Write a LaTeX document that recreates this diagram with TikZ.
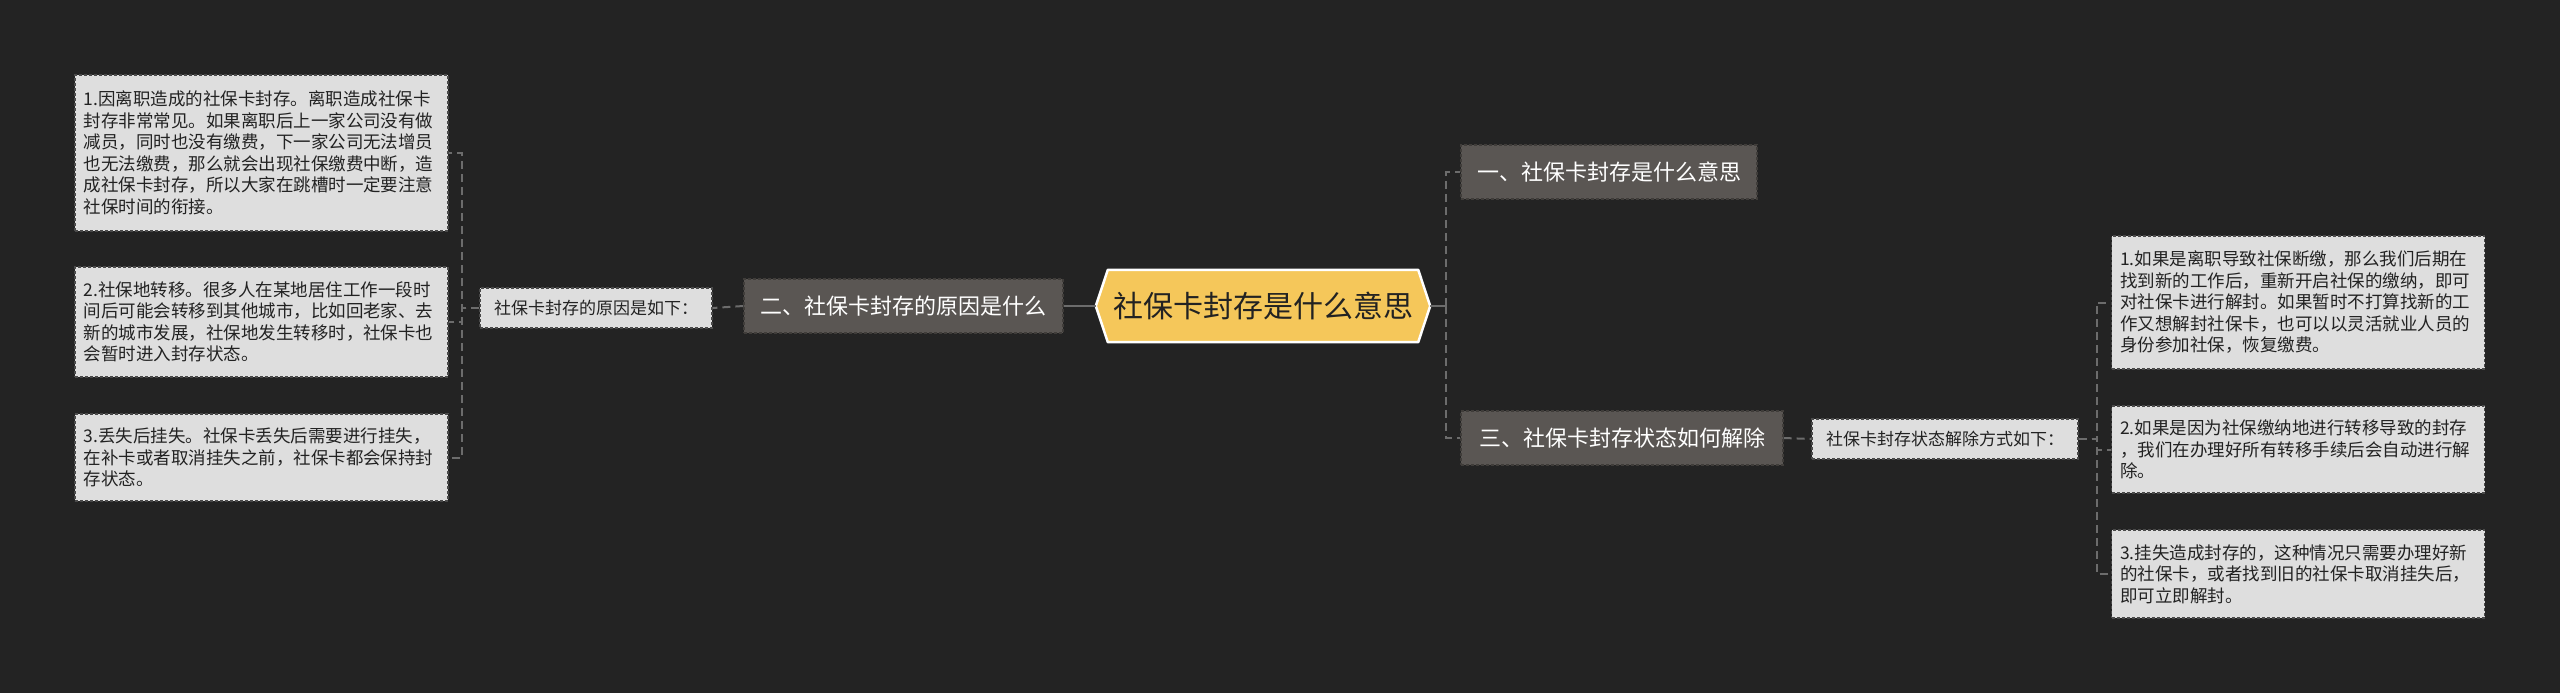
\documentclass[tikz,border=0pt]{standalone}
\usepackage{fontspec}
\setmainfont{Noto Sans CJK SC}
\usetikzlibrary{calc}
\pgfdeclarelayer{bgl}
\pgfdeclarelayer{hexl}
\pgfsetlayers{bgl,hexl,main}
\definecolor{bgc}{HTML}{232323}
\definecolor{leaffill}{HTML}{DEDEDE}
\definecolor{leafborder}{HTML}{4A4A4A}
\definecolor{txt}{HTML}{222222}
\definecolor{brfill}{HTML}{5A5653}
\definecolor{brborder}{HTML}{403D3A}
\definecolor{rootfill}{HTML}{F5C75A}
\definecolor{conncol}{HTML}{6C6C6C}
\begin{document}
\begin{tikzpicture}[x=1pt,y=-1pt,
  leaf/.style={draw=leafborder, dash pattern=on 3pt off 2pt, line width=1.2pt,
    fill=leaffill, text=txt, font=\fontsize{17.5pt}{21.5pt}\selectfont,
    align=left, text width=356pt, inner xsep=8.5pt, inner ysep=4pt, anchor=center},
  lbl/.style={draw=leafborder, dash pattern=on 3pt off 2pt, line width=1.2pt,
    fill=leaffill, text=txt, font=\fontsize{17pt}{20pt}\selectfont,
    inner sep=0pt, minimum height=40pt, anchor=center},
  branch/.style={draw=brborder, dash pattern=on 3pt off 2pt, line width=1.2pt,
    fill=brfill, text=white, font=\fontsize{22pt}{26pt}\selectfont,
    inner sep=0pt, minimum height=54pt, anchor=center},
  rootn/.style={text=txt, font=\fontsize{30pt}{34pt}\selectfont,
    inner sep=0pt, minimum width=334pt, minimum height=72pt, anchor=center},
  conn/.style={draw=conncol, line width=2pt, dash pattern=on 8pt off 5pt},
  sconn/.style={draw=conncol, line width=2pt}
]
\begin{pgfonlayer}{bgl}
\fill[bgc] (0,0) rectangle (2560,693);
\end{pgfonlayer}
\useasboundingbox (0,0) rectangle (2560,693);

% root
\node[rootn] (root) at (1263,306) {社保卡封存是什么意思};
\begin{pgfonlayer}{hexl}
\draw[fill=rootfill, draw=white, line width=2.5pt, line join=round]
  (root.west) -- ([xshift=12pt]root.north west) -- ([xshift=-12pt]root.north east)
  -- (root.east) -- ([xshift=-12pt]root.south east) -- ([xshift=12pt]root.south west) -- cycle;
\end{pgfonlayer}

% left side
\node[branch, minimum width=319pt] (n2) at (903.5,306) {二、社保卡封存的原因是什么};
\node[lbl, minimum width=232pt] (lab1) at (596,308) {社保卡封存的原因是如下：};
\node[leaf, minimum height=156pt] (l1) at (261.5,153) {1.因离职造成的社保卡封存。离职造成社保卡\\封存非常常见。如果离职后上一家公司没有做\\减员，同时也没有缴费，下一家公司无法增员\\也无法缴费，那么就会出现社保缴费中断，造\\成社保卡封存，所以大家在跳槽时一定要注意\\社保时间的衔接。};
\node[leaf, minimum height=110pt] (l2) at (261.5,322) {2.社保地转移。很多人在某地居住工作一段时\\间后可能会转移到其他城市，比如回老家、去\\新的城市发展，社保地发生转移时，社保卡也\\会暂时进入封存状态。};
\node[leaf, minimum height=87pt] (l3) at (261.5,457.5) {3.丢失后挂失。社保卡丢失后需要进行挂失，\\在补卡或者取消挂失之前，社保卡都会保持封\\存状态。};

% right side
\node[branch, minimum width=296pt] (n1) at (1609,172) {一、社保卡封存是什么意思};
\node[branch, minimum width=322pt] (n3) at (1622,438) {三、社保卡封存状态如何解除};
\node[lbl, minimum width=266pt] (lab2) at (1945,439) {社保卡封存状态解除方式如下：};
\node[leaf, minimum height=133pt] (r1) at (2298,302.5) {1.如果是离职导致社保断缴，那么我们后期在\\找到新的工作后，重新开启社保的缴纳，即可\\对社保卡进行解封。如果暂时不打算找新的工\\作又想解封社保卡，也可以以灵活就业人员的\\身份参加社保，恢复缴费。};
\node[leaf, minimum height=87pt] (r2) at (2298,449.5) {2.如果是因为社保缴纳地进行转移导致的封存\\，我们在办理好所有转移手续后会自动进行解\\除。};
\node[leaf, minimum height=88pt] (r3) at (2298,574) {3.挂失造成封存的，这种情况只需要办理好新\\的社保卡，或者找到旧的社保卡取消挂失后，\\即可立即解封。};

% connectors left
\draw[sconn] (root.west) -- (n2.east);
\draw[conn] (n2.west) -- (lab1.east);
\coordinate (lt) at ([xshift=-17pt]lab1.west);
\draw[conn] (lab1.west) -- (lt) |- (l1.east);
\draw[conn] (lab1.west) -- (lt) |- (l2.east);
\draw[conn] (lab1.west) -- (lt) |- (l3.east);

% connectors right
\coordinate (rt) at ([xshift=16pt]root.east);
\draw[sconn] (root.east) -- (rt);
\draw[conn] (rt) |- (n1.west);
\draw[conn] (rt) |- (n3.west);
\draw[conn] (n3.east) -- (lab2.west);
\coordinate (rt2) at ([xshift=18pt]lab2.east);
\draw[conn] (lab2.east) -- (rt2) |- (r1.west);
\draw[conn] (lab2.east) -- (rt2) |- (r2.west);
\draw[conn] (lab2.east) -- (rt2) |- (r3.west);
\end{tikzpicture}
\end{document}
